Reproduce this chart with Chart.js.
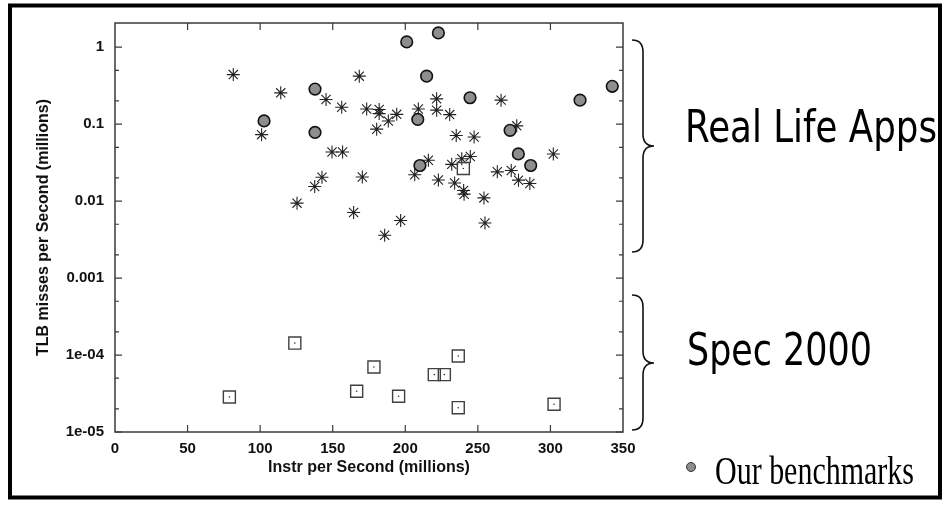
<!DOCTYPE html>
<html>
<head>
<meta charset="utf-8">
<script src="https://cdn.jsdelivr.net/npm/chart.js@4.4.1/dist/chart.umd.min.js"></script>
<style>
  html, body { margin: 0; padding: 0; background: #fff; }
  #wrap { position: relative; width: 950px; height: 507px; overflow: hidden; }
  #c { position: absolute; left: 0; top: 0; }
  #ov { position: absolute; left: 0; top: 0; pointer-events: none; }
</style>
</head>
<body>
<div id="wrap">
<canvas id="c" width="950" height="507"></canvas>
<svg id="ov" width="950" height="507" xmlns="http://www.w3.org/2000/svg">
  <rect x="10" y="5.5" width="930" height="492" fill="none" stroke="#000" stroke-width="4"/>
  <path d="M632,40 Q643,40 643,52 L643,134 Q643,146 654,146 Q643,146 643,158 L643,240 Q643,252 632,252" fill="none" stroke="#111" stroke-width="1.6"/>
  <path d="M632,295 Q643,295 643,307 L643,351 Q643,363 654,363 Q643,363 643,375 L643,418 Q643,430 632,430" fill="none" stroke="#111" stroke-width="1.6"/>
  <g transform="translate(685,142) scale(1,1.23)">
    <text x="0" y="0" font-family="DejaVu Sans" font-size="35.5" fill="#000" textLength="252" lengthAdjust="spacingAndGlyphs">Real Life Apps</text>
  </g>
  <g transform="translate(687,365) scale(1,1.23)">
    <text x="0" y="0" font-family="DejaVu Sans" font-size="35.5" fill="#000" textLength="185" lengthAdjust="spacingAndGlyphs">Spec 2000</text>
  </g>
  <circle cx="691" cy="467" r="4.5" fill="#8c8c8c" stroke="#333" stroke-width="1"/>
  <g transform="translate(715,484) scale(1,1.35)">
    <text x="0" y="0" font-family="Liberation Serif" font-size="30" fill="#000" textLength="199" lengthAdjust="spacingAndGlyphs">Our benchmarks</text>
  </g>
</svg>
</div>
<script>
// ---- data ----
const appsX = [81.5, 114.2, 101, 145.4, 156.2, 149.5, 156.8, 142.6, 137.6, 125.4,
               168.3, 173.4, 182, 182, 188.3, 194.1, 180.3, 209, 221.6, 221.6,
               230.6, 266, 276.8, 235.1, 247.4, 302, 215.9, 232, 238.9, 244.8,
               206.5, 222.8, 234, 240.2, 240.5, 263.4, 273, 278, 285.8, 254.2,
               254.9, 170.4, 164.4, 196.8, 185.8];
const appsY = [0.44, 0.255, 0.073, 0.209, 0.166, 0.0435, 0.0435, 0.0204, 0.0155, 0.0094,
               0.42, 0.157, 0.155, 0.137, 0.11, 0.134, 0.086, 0.157, 0.213, 0.152,
               0.133, 0.205, 0.095, 0.071, 0.068, 0.041, 0.034, 0.03, 0.0355, 0.038,
               0.022, 0.0188, 0.0172, 0.0137, 0.0123, 0.024, 0.025, 0.0187, 0.0169, 0.011,
               0.0052, 0.0206, 0.0071, 0.0056, 0.0036];

const oursX = [102.7, 137.8, 137.8, 201, 222.8, 214.7, 208.6, 210.1, 244.6, 272.2, 277.9, 286.4, 320.4, 342.6];
const oursY = [0.11, 0.285, 0.078, 1.17, 1.53, 0.42, 0.115, 0.029, 0.22, 0.083, 0.041, 0.029, 0.205, 0.31];

const specX = [78.8, 123.9, 166.5, 178.4, 195.4, 220, 226.9, 236.5, 236.5, 302.5, 240];
const specY = [2.85e-5, 1.43e-4, 3.38e-5, 7.0e-5, 2.91e-5, 5.57e-5, 5.57e-5, 9.72e-5, 2.07e-5, 2.29e-5, 0.0265];

const xTickValues = [0, 50, 100, 150, 200, 250, 300, 350];
const yTickValues = [1e-5, 1e-4, 0.001, 0.01, 0.1, 1];
const yTickLabels = ['1e-05', '1e-04', '0.001', '0.01', '0.1', '1'];
const yMinorValues = [2e-5, 5e-5, 2e-4, 5e-4, 0.002, 0.005, 0.02, 0.05, 0.2, 0.5, 2];

const xTitle = 'Instr per Second (millions)';
const yTitle = 'TLB misses per Second (millions)';

const toPts = (xs, ys) => xs.map((x, i) => ({ x: x, y: ys[i] }));

// ---- plugin: plot frame and inward gnuplot-style ticks ----
const framePlugin = {
  id: 'frame',
  afterDatasetsDraw(chart) {
    const { ctx, chartArea: a, scales: { x, y } } = chart;
    ctx.save();
    ctx.strokeStyle = '#3a3a3a';
    ctx.lineWidth = 1.5;
    ctx.strokeRect(a.left, a.top, a.right - a.left, a.bottom - a.top);
    ctx.lineWidth = 1.2;
    ctx.beginPath();
    xTickValues.forEach(v => {
      const px = x.getPixelForValue(v);
      if (px <= a.left + 1 || px >= a.right - 1) return;
      ctx.moveTo(px, a.bottom); ctx.lineTo(px, a.bottom - 7);
      ctx.moveTo(px, a.top); ctx.lineTo(px, a.top + 7);
    });
    yTickValues.forEach(v => {
      const py = y.getPixelForValue(v);
      ctx.moveTo(a.left, py); ctx.lineTo(a.left + 7, py);
      ctx.moveTo(a.right, py); ctx.lineTo(a.right - 7, py);
    });
    yMinorValues.forEach(v => {
      const py = y.getPixelForValue(v);
      if (py < a.top + 1) return;
      ctx.moveTo(a.left, py); ctx.lineTo(a.left + 4, py);
      ctx.moveTo(a.right, py); ctx.lineTo(a.right - 4, py);
    });
    ctx.stroke();
    ctx.restore();
  }
};

new Chart(document.getElementById('c'), {
  type: 'scatter',
  data: {
    datasets: [
      {
        label: 'Our benchmarks',
        data: toPts(oursX, oursY),
        pointStyle: 'circle',
        pointRadius: 5.8,
        backgroundColor: '#8e8e8e',
        borderColor: '#111',
        borderWidth: 1.6,
        order: 0
      },
      {
        label: 'Spec 2000 centre',
        data: toPts(specX, specY),
        pointStyle: 'circle',
        pointRadius: 0.8,
        backgroundColor: '#333',
        borderWidth: 0,
        order: 1
      },
      {
        label: 'Spec 2000',
        data: toPts(specX, specY),
        pointStyle: 'rect',
        pointRadius: 8.5,
        backgroundColor: 'rgba(255,255,255,0)',
        borderColor: '#404040',
        borderWidth: 1.4,
        order: 2
      },
      {
        label: 'Real Life Apps',
        data: toPts(appsX, appsY),
        pointStyle: 'star',
        pointRadius: 6.5,
        backgroundColor: 'rgba(0,0,0,0)',
        borderColor: '#222',
        borderWidth: 1.1,
        order: 3
      }
    ]
  },
  options: {
    responsive: false,
    animation: false,
    devicePixelRatio: 1,
    layout: { padding: { left: 10, top: 23, right: 327, bottom: 30 } },
    plugins: { legend: { display: false }, tooltip: { enabled: false } },
    scales: {
      x: {
        type: 'linear',
        min: 0, max: 350,
        afterBuildTicks(s) { s.ticks = xTickValues.map(v => ({ value: v })); },
        afterFit(s) { s.height = 45; },
        grid: { display: false, drawTicks: false },
        border: { display: false },
        ticks: {
          padding: 8,
          color: '#111',
          font: { family: 'Liberation Sans', size: 15, weight: 'bold' },
          maxRotation: 0,
          callback: v => String(v)
        },
        title: {
          display: true,
          text: xTitle,
          color: '#111',
          font: { family: 'Liberation Sans', size: 16, weight: 'bold' },
          padding: { top: 0, bottom: 0 }
        }
      },
      y: {
        type: 'logarithmic',
        min: 1e-5, max: 2.06,
        afterBuildTicks(s) { s.ticks = yTickValues.map(v => ({ value: v })); },
        afterFit(s) { s.width = 105; },
        grid: { display: false, drawTicks: false },
        border: { display: false },
        ticks: {
          padding: 11,
          color: '#111',
          font: { family: 'Liberation Sans', size: 15, weight: 'bold' },
          callback: (v) => {
            const i = yTickValues.findIndex(t => Math.abs(Math.log10(t) - Math.log10(v)) < 1e-6);
            return i >= 0 ? yTickLabels[i] : '';
          }
        },
        title: {
          display: true,
          text: yTitle,
          color: '#111',
          font: { family: 'Liberation Sans', size: 16, weight: 'bold' },
          padding: { top: 24, bottom: 0 }
        }
      }
    }
  },
  plugins: [framePlugin]
});
</script>
</body>
</html>
